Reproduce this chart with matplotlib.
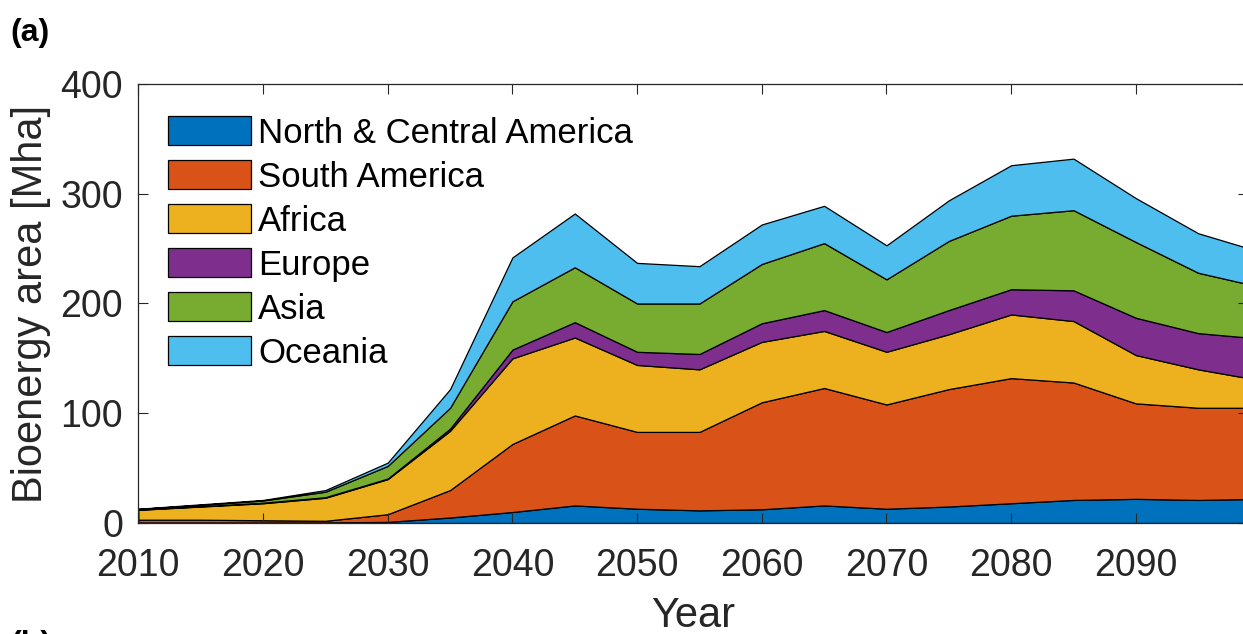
import matplotlib
matplotlib.use("Agg")
from matplotlib import pyplot as plt
import numpy as np

plt.rcParams['font.family'] = ['Liberation Sans', 'DejaVu Sans']

# bioenergy area per region [Mha], 5-year steps
years = np.arange(2010, 2101, 5)
regions = ["North & Central America", "South America", "Africa", "Europe", "Asia", "Oceania"]

north_central_america = [0.5, 0.5, 0.5, 0.5, 1, 5, 10, 16, 13, 11.5, 12.5, 16, 13, 15, 18, 21, 22, 21, 22]
south_america = [2.5, 2.5, 2, 1.5, 7, 25, 62, 82, 70, 71.5, 97.5, 107, 95, 107, 114, 107, 87, 84, 83]
africa = [9, 12, 15.5, 21, 32, 54, 78, 71, 61, 57, 55, 52, 48, 50, 58, 56, 44, 35, 25]
europe = [0.3, 0.3, 0.5, 0.5, 0.5, 2, 8, 14, 12, 14, 17, 19, 18, 22, 23, 28, 34, 33, 38]
asia = [0.5, 1.2, 2, 5, 11.5, 19, 44, 50, 44, 46, 54, 61, 48, 63, 67, 73, 69, 55, 47]
oceania = [0.2, 0.5, 0.5, 1.5, 3, 17, 40, 49, 37, 34, 36, 34, 31, 37, 46, 47, 40, 36, 32]

# matlab default line colours
colors = ["#0072BD", "#D95319", "#EDB120", "#7E2F8E", "#77AC30", "#4DBEEE"]

fig = plt.figure(figsize=(12.43, 6.34), dpi=100)
ax = fig.add_axes([0.1113, 0.1751, 0.8928, 0.6924])

ax.stackplot(years, north_central_america, south_america, africa, europe, asia, oceania,
             colors=colors, labels=regions, edgecolor="black", linewidth=0.9)

ax.set_xlim(2010, 2099)
ax.set_ylim(0, 400)
ax.set_xticks(np.arange(2010, 2091, 10))
ax.set_yticks([0, 100, 200, 300, 400])

ax.tick_params(direction="in", length=7, width=0.8, colors="#262626",
               labelsize=27, top=True, right=True)
ax.tick_params(axis="x", pad=18)
ax.tick_params(axis="y", pad=11)
for s in ax.spines.values():
    s.set_color("#262626")
    s.set_linewidth(0.9)

ax.set_xlabel("Year", fontsize=30, color="#262626")
ax.set_ylabel("Bioenergy area [Mha]", fontsize=30, color="#262626")
ax.xaxis.set_label_coords(0.5, -0.1663)
ax.yaxis.set_label_coords(-0.0787, 0.5)

ax.legend(loc="upper left", bbox_to_anchor=(0.0268, 0.927), frameon=False,
          fontsize=25, handlelength=2.39, handleheight=0.92,
          labelspacing=0.3, handletextpad=0.2, borderpad=0, borderaxespad=0)

fig.text(10 / 1243, 1 - 18 / 634, "(a)", fontsize=23, fontweight="bold", va="top")
fig.text(10 / 1243, 4 / 634, "(b)", fontsize=23, fontweight="bold", va="top")

fig.savefig("out.png", dpi=100)
